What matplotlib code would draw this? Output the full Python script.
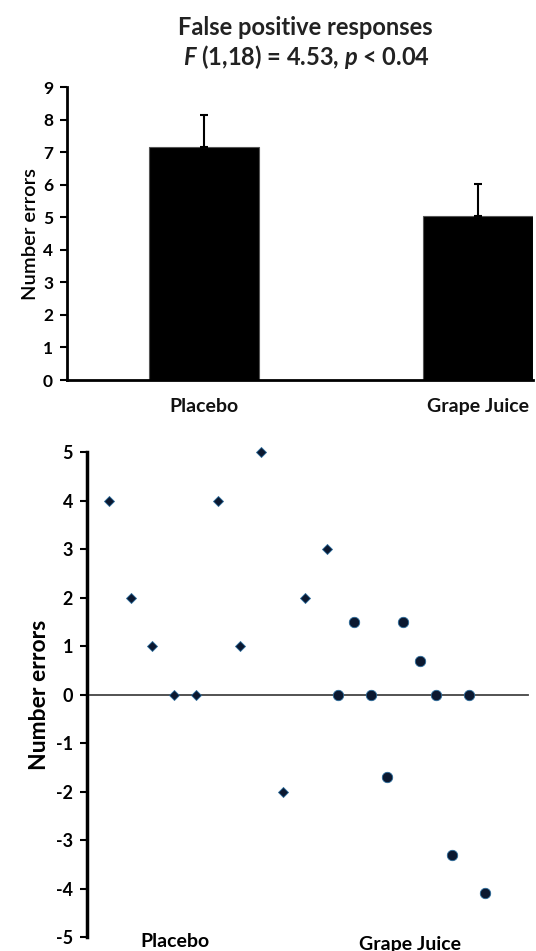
import numpy as np
import matplotlib
matplotlib.use('Agg')
import matplotlib.pyplot as plt

# font settings
plt.rcParams['font.family'] = ['Lato', 'DejaVu Sans']
plt.rcParams['mathtext.fontset'] = 'custom'
plt.rcParams['mathtext.rm'] = 'Lato:bold'
plt.rcParams['mathtext.it'] = 'Lato:bold:italic'
plt.rcParams['axes.unicode_minus'] = False

# top panel data: group means with SEM
groups = ['Placebo', 'Grape Juice']
means = [7.15, 5.03]
sems = [1.0, 1.0]

# bottom panel data: individual scores
placebo_x = [1, 2, 3, 4, 5, 6, 7, 8, 9, 10, 11]
placebo_y = [4, 2, 1, 0, 0, 4, 1, 5, -2, 2, 3]
juice_x = [11.5, 12.25, 13.0, 13.75, 14.5, 15.25, 16.0, 16.75, 17.5, 18.25]
juice_y = [0, 1.5, 0, -1.7, 1.5, 0.7, 0, -3.3, 0, -4.1]

fig = plt.figure(figsize=(5.36, 9.51), dpi=100)

# ---- top bar chart ----
ax1 = fig.add_axes([0.125, 0.6004, 0.869, 0.3081])
xpos = np.arange(len(groups))
ax1.bar(xpos, means, width=0.4, color='black', edgecolor='#555555', linewidth=0.8)
ax1.errorbar(xpos, means, yerr=[np.zeros(len(sems)), sems], fmt='none',
             ecolor='black', elinewidth=1.5, capsize=3, capthick=1.5)
ax1.set_xlim(-0.5, 1.2)
ax1.set_ylim(0, 9)
ax1.set_yticks(range(0, 10))
ax1.set_xticks(xpos)
ax1.set_xticklabels(groups, fontsize=14, fontweight='bold', color='#111111')
ax1.tick_params(axis='x', length=0, pad=13)
ax1.tick_params(axis='y', direction='out', length=5, width=1.5, labelsize=12.5, pad=5)
for lab in ax1.get_yticklabels():
    lab.set_fontweight('bold')
ax1.spines['top'].set_visible(False)
ax1.spines['right'].set_visible(False)
ax1.spines['left'].set_linewidth(2)
ax1.spines['bottom'].set_linewidth(2)
ax1.set_ylabel('Number errors', fontsize=14.5, fontweight='semibold', labelpad=3)

fig.text(0.569, 0.971, 'False positive responses', ha='center', va='center',
         fontsize=17, fontweight='bold', color='#222222')
fig.text(0.572, 0.940, r'$F$ (1,18) = 4.53, $p$ < 0.04', ha='center', va='center',
         fontsize=17, fontweight='bold', color='#222222')

# ---- bottom scatter ----
ax2 = fig.add_axes([0.1623, 0.0147, 0.8302, 0.51])
ax2.axhline(0, xmin=0.006, xmax=0.99, color='#444444', linewidth=1.3, zorder=1)
ax2.plot(placebo_x, placebo_y, 'D', markersize=5.5, color='#0b1830',
         markeredgecolor='#2a6a9a', markeredgewidth=0.6, clip_on=False, zorder=3)
ax2.plot(juice_x, juice_y, 'o', markersize=7.5, color='#0b1830',
         markeredgecolor='#2a6a9a', markeredgewidth=0.6, clip_on=False, zorder=3)
ax2.set_xlim(0, 20.4)
ax2.set_ylim(-5, 5)
ax2.set_yticks(range(-5, 6))
ax2.set_xticks([])
ax2.tick_params(axis='y', direction='out', length=5, width=1.5, labelsize=13, pad=5)
for lab in ax2.get_yticklabels():
    lab.set_fontweight('bold')
for s in ['top', 'right', 'bottom']:
    ax2.spines[s].set_visible(False)
ax2.spines['left'].set_linewidth(2.5)
ax2.set_ylabel('Number errors', fontsize=16.5, fontweight='bold', labelpad=4)
ax2.text(4.05, -5.1, 'Placebo', ha='center', va='center', fontsize=14, fontweight='bold')
ax2.text(14.8, -5.15, 'Grape Juice', ha='center', va='center', fontsize=14, fontweight='bold')

fig.savefig('out.png', dpi=100)
